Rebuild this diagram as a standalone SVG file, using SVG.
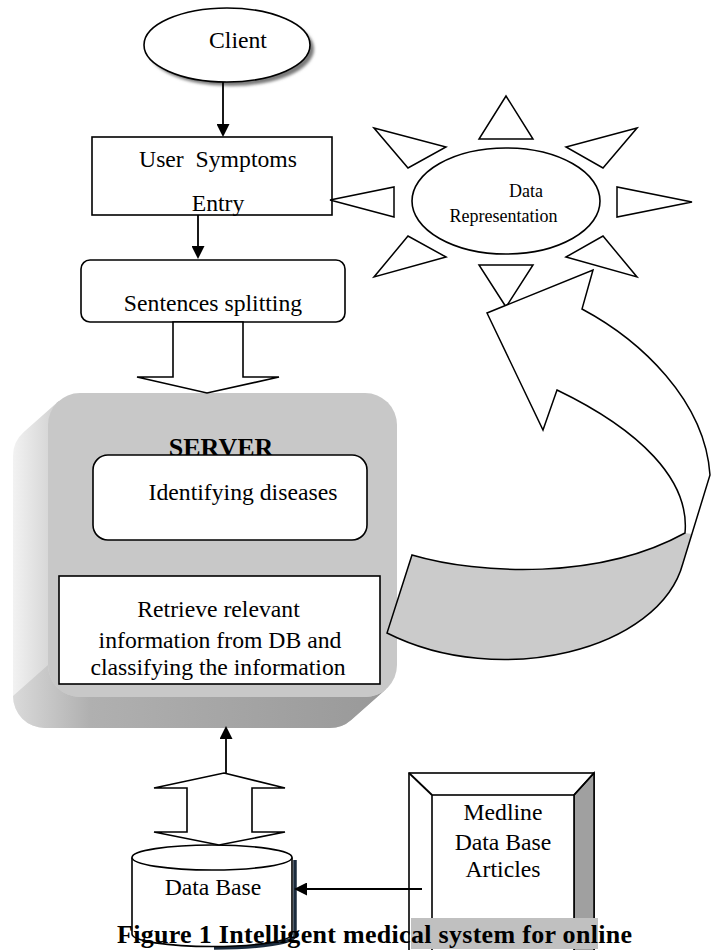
<svg xmlns="http://www.w3.org/2000/svg" width="712" height="950" viewBox="0 0 712 950">
<style>
.t{font-family:"Liberation Serif","Times New Roman",serif;font-size:23.7px;fill:#000;text-anchor:middle}
.sm{font-size:18px}
.b{font-weight:bold}
.w{fill:#fff;stroke:#000;stroke-width:1.6}
.ln{fill:none;stroke:#000;stroke-width:1.8}
.tri{fill:#fff;stroke:#000;stroke-width:1.5;stroke-linejoin:miter}
</style>
<defs>
<marker id="ah" viewBox="0 0 13 13" refX="6" refY="6.5" markerWidth="13" markerHeight="13" markerUnits="userSpaceOnUse" orient="auto">
<path d="M0,0 L13,6.5 L0,13 Z" fill="#000"/>
</marker>
<linearGradient id="gSide" gradientUnits="userSpaceOnUse" x1="13" y1="0" x2="62" y2="0">
<stop offset="0" stop-color="#f2f2f2"/><stop offset="1" stop-color="#cdcdcd"/>
</linearGradient>
<linearGradient id="gBot" gradientUnits="userSpaceOnUse" x1="13" y1="0" x2="397" y2="0">
<stop offset="0" stop-color="#dadada"/><stop offset="0.2" stop-color="#b0b0b0"/><stop offset="1" stop-color="#989898"/>
</linearGradient>
<filter id="blur" x="-20%" y="-20%" width="140%" height="140%"><feGaussianBlur stdDeviation="1.5"/></filter>
</defs>

<g id="client">
<ellipse cx="231" cy="49" rx="83" ry="37" fill="#7a7a7a" filter="url(#blur)"/>
<ellipse cx="227" cy="45" rx="83" ry="37" class="w"/>
<text x="238" y="48" class="t">Client</text>
</g>

<g id="user-symptoms">
<rect x="92" y="137" width="240" height="78" class="w"/>
<text x="218" y="167" class="t" xml:space="preserve">User  Symptoms</text>
<text x="218" y="211" class="t">Entry</text>
</g>

<g id="sentences">
<rect x="81" y="260" width="264" height="62" rx="9" class="w"/>
<text x="213" y="311" class="t">Sentences splitting</text>
</g>

<g id="data-representation">
<polygon class="tri" points="479,139 533,139 506,96"/>
<polygon class="tri" points="374,128 446,147 408,168"/>
<polygon class="tri" points="637,128 566,147 603,168"/>
<polygon class="tri" points="330,200 394,187 394,217"/>
<polygon class="tri" points="617,187 617,217 692,202"/>
<polygon class="tri" points="446,257 408,236 374,277"/>
<polygon class="tri" points="566,257 603,236 637,277"/>
<polygon class="tri" points="479,265 533,265 506,307"/>
<ellipse cx="506" cy="201" rx="94" ry="53" class="w"/>
<text x="526" y="197" class="t sm">Data</text>
<text x="503.5" y="222" class="t sm">Representation</text>
</g>

<g id="server">
<path d="M58.8,401 L23.8,432 A32,32 0 0 0 13,456 L13,696 A32,32 0 0 0 45,728 L330,728 A32,32 0 0 0 351.2,720 L386.2,689 Z" fill="url(#gSide)"/>
<path d="M48,665 A32,32 0 0 0 80,697 L365,697 A32,32 0 0 0 386.2,689 L351.2,720 A32,32 0 0 1 330,728 L45,728 A32,32 0 0 1 13,696 Z" fill="url(#gBot)"/>
<rect x="48" y="393" width="349" height="304" rx="32" fill="#c8c8c8"/>
<text x="221" y="456" class="t b" style="font-size:26px">SERVER</text>
</g>

<g id="identifying">
<rect x="93" y="455" width="274" height="85" rx="15" class="w"/>
<text x="243" y="500" class="t">Identifying diseases</text>
</g>

<g id="retrieve">
<rect x="59" y="576" width="321" height="108" class="w"/>
<text x="218.5" y="617" class="t">Retrieve relevant</text>
<text x="220" y="648" class="t">information from DB and</text>
<text x="218" y="675" class="t">classifying the information</text>
</g>

<g id="database">
<path d="M295,860 L295,935 A80,12.5 0 0 1 214,948" fill="none" stroke="#1b2b3d" stroke-width="3.5"/>
<path d="M132,857.5 L132,934 A80,12.5 0 0 0 292,934 L292,857.5" class="w"/>
<ellipse cx="212" cy="857.5" rx="80" ry="12.5" class="w"/>
<text x="213" y="895" class="t">Data Base</text>
</g>

<g id="medline">
<rect x="409" y="773" width="185" height="200" class="w"/>
<polygon points="574,795 594,773 594,973 574,973" fill="#a0a0a0" stroke="#000" stroke-width="1.5"/>
<rect x="432" y="795" width="142" height="178" class="w"/>
<line x1="409" y1="773" x2="432" y2="795" class="ln" stroke-width="1.5"/>
<line x1="594" y1="773" x2="574" y2="795" class="ln" stroke-width="1.5"/>
<text x="503" y="820" class="t">Medline</text>
<text x="503" y="850" class="t">Data Base</text>
<text x="503" y="877" class="t">Articles</text>
</g>

<g id="connectors">
<line x1="223" y1="82" x2="223" y2="130" class="ln" stroke-width="2.5" marker-end="url(#ah)"/>
<line x1="198" y1="215" x2="198" y2="252" class="ln" marker-end="url(#ah)"/>
<path d="M173,322 L243,322 L243,377 L279,377 L207,393 L137,377 L173,377 Z" class="w" stroke-width="1.5"/>
<path d="M487,313 L593,270 L582,309 C640,340 705,400 710,475 L683,563 C660,650 500,690 387,633 L412,555 C480,575 600,580 685,533 C690,480 640,430 557,390 L543,430 Z" fill="#fff"/>
<path d="M412,555 C480,575 600,580 685,533 L692,534 L683,563 C660,650 500,690 387,633 Z" fill="#cbcbcb"/>
<path d="M487,313 L593,270 L582,309 C640,340 705,400 710,475 L683,563 C660,650 500,690 387,633 L412,555 C480,575 600,580 685,533 C690,480 640,430 557,390 L543,430 Z" fill="none" stroke="#000" stroke-width="1.5"/>
<line x1="226" y1="773" x2="226" y2="733" class="ln" marker-end="url(#ah)"/>
<path d="M224,773 L285,788 L252,788 L252,832 L285,832 L219,845 L154,832 L187,832 L187,788 L154,788 Z" class="w" stroke-width="1.5"/>
<line x1="422" y1="889" x2="301" y2="889" class="ln" marker-end="url(#ah)"/>
</g>

<g id="caption">
<rect x="411" y="918" width="187" height="31" fill="#c0c0c0"/>
<text x="117" y="943" class="t b" style="font-size:26px;text-anchor:start" textLength="515" lengthAdjust="spacing">Figure 1 Intelligent medical system for online</text>
</g>
</svg>
